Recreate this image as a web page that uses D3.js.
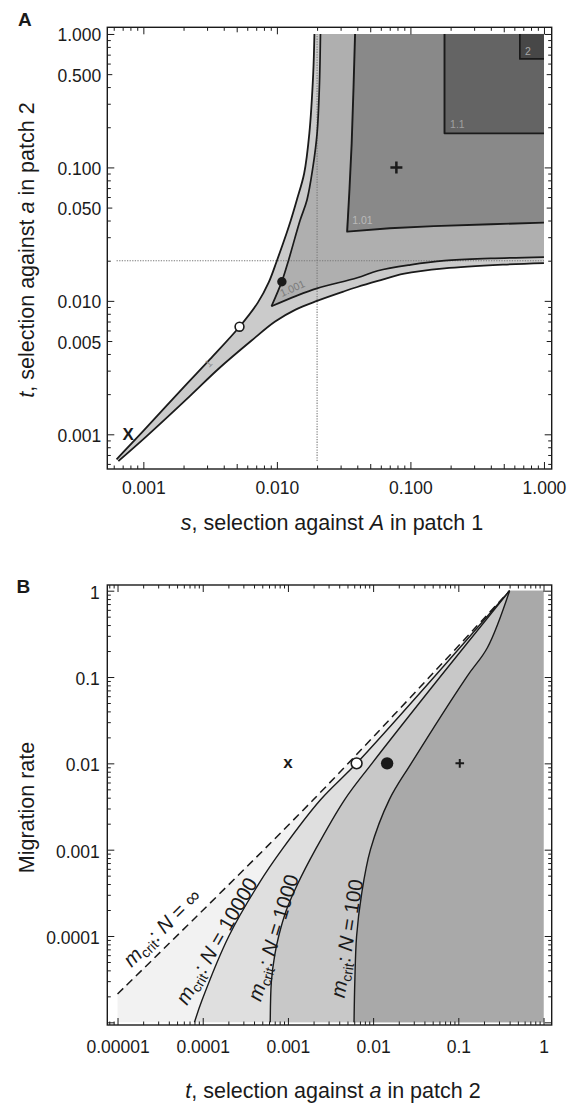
<!DOCTYPE html>
<html><head><meta charset="utf-8">
<script src="https://cdn.jsdelivr.net/npm/d3@7"></script>
<style>
body{margin:0;background:#fff;}
svg{display:block;font-family:"Liberation Sans",Arial,Helvetica,sans-serif;}
</style></head><body>
<svg id="c" width="580" height="1105"></svg>
<script>
// ================= DATA =================
// ---- Panel A : s (x) vs t (y) ----
const aXTickValues = [0.001, 0.01, 0.1, 1];
const aXTickLabels = ["0.001", "0.010", "0.100", "1.000"];
const aYTickValues = [1, 0.5, 0.1, 0.05, 0.01, 0.005, 0.001];
const aYTickLabels = ["1.000", "0.500", "0.100", "0.050", "0.010", "0.005", "0.001"];
const aDataMin = 0.00063;   // lower end of plotted s and t
const aDataMax = 1;
const aGuideValue = 0.02;   // dotted guide lines s = 0.02 and t = 0.02

// contour level 1 : upper-left boundary  [s, t]
const aContour1Upper = [[0.00063,0.00065],[0.001,0.00106],[0.002,0.00225],[0.00316,0.00366],
  [0.00525,0.0064],[0.0072,0.0097],[0.0087,0.0138],[0.0100,0.020],[0.0118,0.032],[0.0127,0.040],
  [0.0141,0.057],[0.0160,0.09],[0.0175,0.18],[0.0187,0.5],[0.0191,1.0]];
// contour level 1 : lower-right boundary  [s, t]
const aContour1Lower = [[0.00065,0.00063],[0.00106,0.00097],[0.00225,0.00195],[0.00366,0.0031],
  [0.0064,0.0050],[0.0097,0.0070],[0.0138,0.0086],[0.020,0.0100],[0.032,0.0118],[0.040,0.0127],
  [0.057,0.0141],[0.09,0.0160],[0.18,0.0175],[0.5,0.0187],[1.0,0.0192]];
// contour level 1.001 : V shape, two arms starting at the apex
const aContour1001Left = [[0.0091,0.0091],[0.0109,0.0140],[0.0122,0.020],[0.0149,0.040],
  [0.0168,0.057],[0.0186,0.10],[0.0200,0.18],[0.0208,0.4],[0.0212,1.0]];
const aContour1001Lower = [[0.0091,0.0091],[0.0140,0.0109],[0.020,0.0124],[0.040,0.0149],
  [0.057,0.0168],[0.10,0.0186],[0.18,0.0200],[0.4,0.0208],[1.0,0.0213]];
// contour level 1.01
const aContour101Left = [[0.0330,0.0336],[0.0350,0.07],[0.0363,0.15],[0.0375,0.4],[0.0385,1.0]];
const aContour101Lower = [[0.0336,0.0330],[0.07,0.0350],[0.15,0.0363],[0.4,0.0375],[1.0,0.0386]];
// contour level 1.1 and 2 : corners of the square regions
const aContour11Corner = [0.18, 0.18];
const aContour2Corner = [0.66, 0.65];
// contour labels [text, s, t]
const aContourLabels = [["1",0.0031,0.00314],["1.001",0.0109,0.0107],["1.01",0.0366,0.0377],
  ["1.1",0.198,0.197],["2",0.72,0.70]];
// markers
const aMarkers = [["x",0.00077,0.001],["open",0.00525,0.0064],["filled",0.0109,0.0139],["plus",0.0785,0.1]];

// ---- Panel B : t (x) vs migration rate m (y) ----
const bTickValues = [1e-5, 1e-4, 1e-3, 1e-2, 1e-1, 1];
const bXTickLabels = ["0.00001","0.0001","0.001","0.01","0.1","1"];
const bYTickLabels = ["","0.0001","0.001","0.01","0.1","1"];
const bDataMin = 1e-5;
const bDataMax = 1;
// m_crit curves [t, m]
const bCritInf = [[1e-5,2.13e-5],[0.00197,0.00376],[0.4,1.0]];
const bCrit10000 = [[8.0e-5,1e-5],[9.8e-5,1.8e-5],[2.03e-4,1.0e-4],[4.6e-4,4.1e-4],[8.5e-4,1e-3],
  [0.0024,0.00376],[0.0064,0.01],[0.052,0.1],[0.4,1.0]];
const bCrit1000 = [[6.2e-4,1e-5],[6.4e-4,3e-5],[7.0e-4,6e-5],[7.8e-4,1e-4],[9.6e-4,2e-4],[1.3e-3,4e-4],
  [2.1e-3,1e-3],[4.6e-3,3.76e-3],[9.7e-3,0.01],[0.061,0.1],[0.4,1.0]];
const bCrit100 = [[5.97e-3,1e-5],[6.1e-3,3e-5],[6.4e-3,1e-4],[7.3e-3,3e-4],[9.3e-3,1e-3],
  [0.0155,0.0038],[0.028,0.01],[0.125,0.1],[0.22,0.22],[0.4,1.0]];
const bCurveNames = ["\u221E","10000","1000","100"];
const bMarkerM = 0.01;
const bMarkers = [["x",0.001],["open",0.0064],["filled",0.0146],["plus",0.104]];

// ================= LAYOUT / STYLE =================
const svg = d3.select("#c");
const INK = "#1a1a1a";
const colA = {band:"#cbcbcb", v:"#afafaf", r101:"#898989", r11:"#646464", r2:"#474747"};
const colB = {inf:"#f2f2f2", n10000:"#dfdfdf", n1000:"#c8c8c8", n100:"#a9a9a9"};

const ax = d3.scaleLog().domain([Math.pow(10,-3.27), Math.pow(10,0.058)]).range([107.3, 551.7]);
const ay = d3.scaleLog().domain([Math.pow(10,-3.26), Math.pow(10,0.05)]).range([469, 27.3]);
const bx = d3.scaleLog().domain([Math.pow(10,-5.12), Math.pow(10,0.096)]).range([107.3, 551.7]);
const by = d3.scaleLog().domain([Math.pow(10,-5.031), Math.pow(10,0.066)]).range([1025, 585]);

const isDecade = d => Math.abs(Math.log10(d) - Math.round(Math.log10(d))) < 1e-6;
const isFive = d => Math.abs(d / Math.pow(10, Math.floor(Math.log10(d) + 1e-9)) - 5) < 1e-6;

function ticksFor(g, scale, orient, pos, values, size){
  const f = {bottom:d3.axisBottom, top:d3.axisTop, left:d3.axisLeft, right:d3.axisRight}[orient];
  const horiz = orient === "bottom" || orient === "top";
  const gg = g.append("g").attr("transform", horiz ? `translate(0,${pos})` : `translate(${pos},0)`)
    .call(f(scale).tickValues(values).tickSize(-size).tickFormat(""));
  gg.select(".domain").remove();
  gg.selectAll(".tick text").remove();
  gg.selectAll(".tick line").attr("stroke", INK).attr("stroke-width", 1);
  return gg;
}
function frameTicks(g, xs, ys, xFives, yFives){
  const [x0, x1] = xs.range(), [y0, y1] = ys.range();
  const xAll = xs.ticks(), yAll = ys.ticks();
  const xMaj = xAll.filter(isDecade), yMaj = yAll.filter(isDecade);
  const xMid = xFives ? xAll.filter(isFive) : [], yMid = yFives ? yAll.filter(isFive) : [];
  const xMin = xAll.filter(d => !isDecade(d) && !xMid.includes(d));
  const yMin = yAll.filter(d => !isDecade(d) && !yMid.includes(d));
  for (const [o, p] of [["bottom", y0], ["top", y1]]) {
    ticksFor(g, xs, o, p, xMaj, 7); ticksFor(g, xs, o, p, xMid, 5); ticksFor(g, xs, o, p, xMin, 3.5);
  }
  for (const [o, p] of [["left", x0], ["right", x1]]) {
    ticksFor(g, ys, o, p, yMaj, 7); ticksFor(g, ys, o, p, yMid, 5); ticksFor(g, ys, o, p, yMin, 3.5);
  }
  g.append("rect").attr("x", x0).attr("y", y1).attr("width", x1 - x0).attr("height", y0 - y1)
    .attr("fill", "none").attr("stroke", INK).attr("stroke-width", 1.4);
}
function tickLabels(g, scale, orient, pos, values, labels, pad, dy){
  const f = orient === "bottom" ? d3.axisBottom : d3.axisLeft;
  const gg = g.append("g").attr("transform", orient === "bottom" ? `translate(0,${pos})` : `translate(${pos},0)`)
    .call(f(scale).tickValues(values).tickSize(0).tickPadding(pad)
      .tickFormat(d => labels[values.indexOf(d)]));
  gg.select(".domain").remove();
  gg.selectAll(".tick line").remove();
  gg.selectAll(".tick text").attr("font-size", 17.5).attr("fill", INK)
    .attr("font-family", '"Liberation Sans", Arial, Helvetica, sans-serif').attr("dy", dy);
  return gg;
}
function richText(g, parts, attrs){
  const t = g.append("text");
  for (const k in attrs) t.attr(k, attrs[k]);
  for (const p of parts) {
    const s = t.append("tspan").text(p.t);
    if (p.i) s.attr("font-style", "italic");
    if (p.fs) s.attr("font-size", p.fs);
    if (p.dy) s.attr("dy", p.dy);
  }
  return t;
}
function plusPath(x, y, h){ return `M${x-h},${y}H${x+h}M${x},${y-h}V${y+h}`; }

// ================= PANEL A =================
const gA = svg.append("g");
const lineA = d3.line().x(d => ax(d[0])).y(d => ay(d[1])).curve(d3.curveCatmullRom.alpha(0.5));
const linA = d3.line().x(d => ax(d[0])).y(d => ay(d[1]));
const cont = p => p.replace(/^M/, "L");
const pA = (s, t) => `L${ax(s)},${ay(t)}`;

gA.append("path").attr("fill", colA.band)
  .attr("d", lineA(aContour1Upper) + pA(aDataMax, aDataMax) + cont(lineA(aContour1Lower.slice().reverse())) + "Z");
gA.append("path").attr("fill", colA.v)
  .attr("d", lineA(aContour1001Left) + pA(aDataMax, aDataMax) + cont(lineA(aContour1001Lower.slice().reverse())) + "Z");
gA.append("path").attr("fill", colA.r101)
  .attr("d", linA(aContour101Left.concat([[aDataMax, aDataMax]], aContour101Lower.slice().reverse())) + "Z");
gA.append("rect").attr("fill", colA.r11)
  .attr("x", ax(aContour11Corner[0])).attr("y", ay(aDataMax))
  .attr("width", ax(aDataMax) - ax(aContour11Corner[0])).attr("height", ay(aContour11Corner[1]) - ay(aDataMax));
gA.append("rect").attr("fill", colA.r2)
  .attr("x", ax(aContour2Corner[0])).attr("y", ay(aDataMax))
  .attr("width", ax(aDataMax) - ax(aContour2Corner[0])).attr("height", ay(aContour2Corner[1]) - ay(aDataMax));

// dotted guides
gA.append("line").attr("x1", ax(aGuideValue)).attr("x2", ax(aGuideValue)).attr("y1", ay(aDataMin)).attr("y2", ay(aDataMax))
  .attr("stroke", "#7a7a7a").attr("stroke-width", 1.1).attr("stroke-dasharray", "1.3,1.3");
gA.append("line").attr("y1", ay(aGuideValue)).attr("y2", ay(aGuideValue)).attr("x1", ax(aDataMin)).attr("x2", ax(aDataMax))
  .attr("stroke", "#7a7a7a").attr("stroke-width", 1.1).attr("stroke-dasharray", "1.3,1.3");

// contour lines
const stA = sel => sel.attr("fill", "none").attr("stroke", INK).attr("stroke-linejoin", "round");
stA(gA.append("path")).attr("stroke-width", 1.8).attr("d", lineA(aContour1Upper));
stA(gA.append("path")).attr("stroke-width", 1.8).attr("d", lineA(aContour1Lower));
stA(gA.append("path")).attr("stroke-width", 1.7).attr("d", lineA(aContour1001Lower));
stA(gA.append("path")).attr("stroke-width", 1.7).attr("d", lineA(aContour1001Left));
stA(gA.append("path")).attr("stroke-width", 1.9).attr("d", linA(aContour101Lower.slice().reverse().concat(aContour101Left.slice(1))));
stA(gA.append("path")).attr("stroke-width", 1.9)
  .attr("d", linA([[aContour11Corner[0], aDataMax], aContour11Corner, [aDataMax, aContour11Corner[1]]]));
stA(gA.append("path")).attr("stroke-width", 1.7)
  .attr("d", linA([[aContour2Corner[0], aDataMax], aContour2Corner, [aDataMax, aContour2Corner[1]]]));

// contour labels
const aLabelStyle = {"1":{rot:-45, fill:"#8e8e8e"}, "1.001":{rot:-24, fill:"#7c7c7c"}, "1.01":{rot:0, fill:"#bababa"},
  "1.1":{rot:0, fill:"#a0a0a0"}, "2":{rot:0, fill:"#a8a8a8"}};
for (const [txt, s, t] of aContourLabels) {
  const st = aLabelStyle[txt];
  gA.append("text").text(txt).attr("font-size", 10.5).attr("fill", st.fill)
    .attr("transform", `translate(${ax(s)},${ay(t)}) rotate(${st.rot})`);
}

// markers
for (const [sym, s, t] of aMarkers) {
  const x = ax(s), y = ay(t);
  if (sym === "x") gA.append("text").text("X").attr("x", x).attr("y", y).attr("dy", "0.36em")
    .attr("text-anchor", "middle").attr("font-size", 17).attr("font-weight", "bold").attr("fill", INK);
  if (sym === "open") gA.append("circle").attr("cx", x).attr("cy", y).attr("r", 4.4)
    .attr("fill", "#fff").attr("stroke", INK).attr("stroke-width", 1.6);
  if (sym === "filled") gA.append("circle").attr("cx", x).attr("cy", y).attr("r", 4.7).attr("fill", INK);
  if (sym === "plus") gA.append("path").attr("d", plusPath(x, y, 6)).attr("stroke", INK).attr("stroke-width", 2.5);
}

frameTicks(gA, ax, ay, true, true);
tickLabels(gA, ax, "bottom", 469, aXTickValues, aXTickLabels, 0, 0).selectAll(".tick text").attr("y", 25);
tickLabels(gA, ay, "left", 107.3, aYTickValues, aYTickLabels, 6, "0.4em");

richText(gA, [{t:"s", i:1}, {t:", selection against "}, {t:"A", i:1}, {t:" in patch 1"}],
  {x:332, y:530, "text-anchor":"middle", "font-size":21.5, fill:INK});
richText(gA, [{t:"t", i:1}, {t:", selection against "}, {t:"a", i:1}, {t:" in patch 2"}],
  {transform:"translate(34,250) rotate(-90)", "text-anchor":"middle", "font-size":21.5, fill:INK});
gA.append("text").text("A").attr("x", 18).attr("y", 26).attr("font-size", 19).attr("font-weight", "bold").attr("fill", INK);

// ================= PANEL B =================
const gB = svg.append("g");
const lineB = d3.line().x(d => bx(d[0])).y(d => by(d[1])).curve(d3.curveCatmullRom.alpha(0.5));
const pB = (t, m) => `L${bx(t)},${by(m)}`;

gB.append("path").attr("fill", colB.inf)
  .attr("d", lineB(bCritInf) + pB(bDataMax, bDataMax) + pB(bDataMax, bDataMin) + pB(bDataMin, bDataMin) + "Z");
const bCurves = [bCrit10000, bCrit1000, bCrit100];
const bFills = [colB.n10000, colB.n1000, colB.n100];
bCurves.forEach((c, i) => {
  gB.append("path").attr("fill", bFills[i])
    .attr("d", lineB(c) + pB(bDataMax, bDataMax) + pB(bDataMax, bDataMin) + "Z");
});
gB.append("path").attr("d", lineB(bCritInf)).attr("fill", "none").attr("stroke", INK)
  .attr("stroke-width", 1.5).attr("stroke-dasharray", "8,5");
bCurves.forEach(c => {
  gB.append("path").attr("d", lineB(c)).attr("fill", "none").attr("stroke", INK).attr("stroke-width", 1.4);
});

// curve labels: [curve index, t, m, rotation]
const bLabelLayout = [[0, 3.3e-5, 1.25e-4, -45], [1, 1.45e-4, 8.8e-5, -60], [2, 6.7e-4, 9.6e-5, -73], [3, 4.9e-3, 9.4e-5, -81]];
for (const [k, t, m, rot] of bLabelLayout) {
  richText(gB, [{t:"m", i:1}, {t:"crit", fs:14, dy:4}, {t:": ", dy:-4}, {t:"N", i:1}, {t:"\u00A0=\u00A0" + bCurveNames[k]}],
    {transform:`translate(${bx(t)},${by(m)}) rotate(${rot})`, "text-anchor":"middle", dy:"0.35em",
     "font-size":20.5, fill:INK});
}

// markers
for (const [sym, t] of bMarkers) {
  const x = bx(t), y = by(bMarkerM);
  if (sym === "x") gB.append("text").text("x").attr("x", x).attr("y", y).attr("dy", "0.26em")
    .attr("text-anchor", "middle").attr("font-size", 17).attr("font-weight", "bold").attr("fill", INK);
  if (sym === "open") gB.append("circle").attr("cx", x).attr("cy", y).attr("r", 5.4)
    .attr("fill", "#fff").attr("stroke", INK).attr("stroke-width", 1.6);
  if (sym === "filled") gB.append("circle").attr("cx", x).attr("cy", y).attr("r", 6.2).attr("fill", INK);
  if (sym === "plus") gB.append("path").attr("d", plusPath(x, y, 4.3)).attr("stroke", INK).attr("stroke-width", 2);
}

frameTicks(gB, bx, by, false, false);
tickLabels(gB, bx, "bottom", 1025, bTickValues, bXTickLabels, 0, 0).selectAll(".tick text").attr("y", 27.7);
tickLabels(gB, by, "left", 107.3, bTickValues, bYTickLabels, 7.5, "0.42em");

richText(gB, [{t:"t", i:1}, {t:", selection against "}, {t:"a", i:1}, {t:" in patch 2"}],
  {x:333, y:1098, "text-anchor":"middle", "font-size":21.5, fill:INK});
richText(gB, [{t:"Migration rate"}],
  {transform:"translate(34,807.5) rotate(-90)", "text-anchor":"middle", "font-size":21.5, fill:INK});
gB.append("text").text("B").attr("x", 16.5).attr("y", 593).attr("font-size", 19).attr("font-weight", "bold").attr("fill", INK);
</script>
</body></html>
